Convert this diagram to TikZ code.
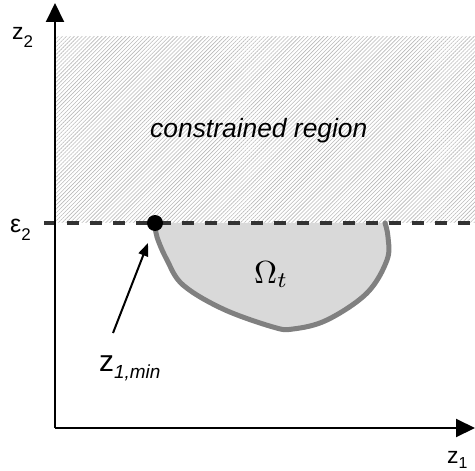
\documentclass[tikz,border=0pt]{standalone}
\usepackage{fontspec}
\usepackage{graphicx}
\setmainfont{Liberation Sans}
\usetikzlibrary{arrows.meta,patterns.meta}
\begin{document}
\begin{tikzpicture}[x=1bp,y=-1bp,
  axis/.style={line width=2bp,black,-{Triangle[length=19bp,width=18bp]}},
  lbl/.style={inner sep=0pt,anchor=base west},
  limitline/.style={line width=4bp,draw=black!80,dash pattern=on 12bp off 11bp},
  region/.style={fill=black!15},
  regionedge/.style={line width=5bp,draw=black!50,line cap=round},
  pointer/.style={line width=2bp,black,-{Triangle[length=13bp,width=10bp]}}]
\useasboundingbox (0,0) rectangle (475,471);
% coordinates
\coordinate (O) at (55,428);
\coordinate (ytip) at (55,3);
\coordinate (xtip) at (475,428);
\coordinate (eps) at (44,223);
\coordinate (epsend) at (475,223);
\coordinate (zminpt) at (155,223);
% constrained (hatched) region
\fill[pattern={Lines[angle=45,distance=2.8bp,line width=0.6bp]},pattern color=black!28]
  (55,37) rectangle (475,223);
% Omega region
\fill[region] plot[smooth,tension=0.6] coordinates {(155,223) (157,237) (167,260) (183,285) (223,309) (273,327) (293,329) (327,320) (367,293) (387,260) (388,237) (385,223)} -- cycle;
\draw[regionedge] plot[smooth,tension=0.6] coordinates {(155,223) (157,237) (167,260) (183,285) (223,309) (273,327) (293,329) (327,320) (367,293) (387,260) (388,237) (385,223)};
% dashed limit
\draw[limitline] (eps) -- (epsend);
% axes
\draw[axis] (O) -- (ytip);
\draw[axis] (O) -- (xtip);
% point
\node[circle,fill=black,inner sep=0pt,minimum size=16bp] (dot) at (zminpt) {};
% labels
\node[lbl] (z2) at (12,40) {\fontsize{23}{23}\selectfont z\raisebox{-0.33em}{\fontsize{17}{17}\selectfont 2}};
\node[lbl] (e2) at (10,233) {\fontsize{25}{25}\selectfont ε\raisebox{-0.3em}{\fontsize{17}{17}\selectfont 2}};
\node[lbl] (z1) at (447,463) {\fontsize{23}{23}\selectfont z\raisebox{-0.22em}{\fontsize{16}{16}\selectfont 1}};
\node[lbl] (zmin) at (99,371) {\fontsize{30}{30}\selectfont z\raisebox{-0.25em}{\fontsize{19}{19}\selectfont\itshape 1,min}};
\node[lbl] (cr) at (150,138) {\fontsize{26.5}{30}\selectfont\itshape constrained region};
\node[lbl] (om) at (254,283) {\scalebox{3.2}{$\Omega_t$}};
% pointer arrow
\coordinate (atail) at (113,333);
\coordinate (ahead) at (148,243);
\draw[pointer] (atail) -- (ahead);
\end{tikzpicture}
\end{document}
